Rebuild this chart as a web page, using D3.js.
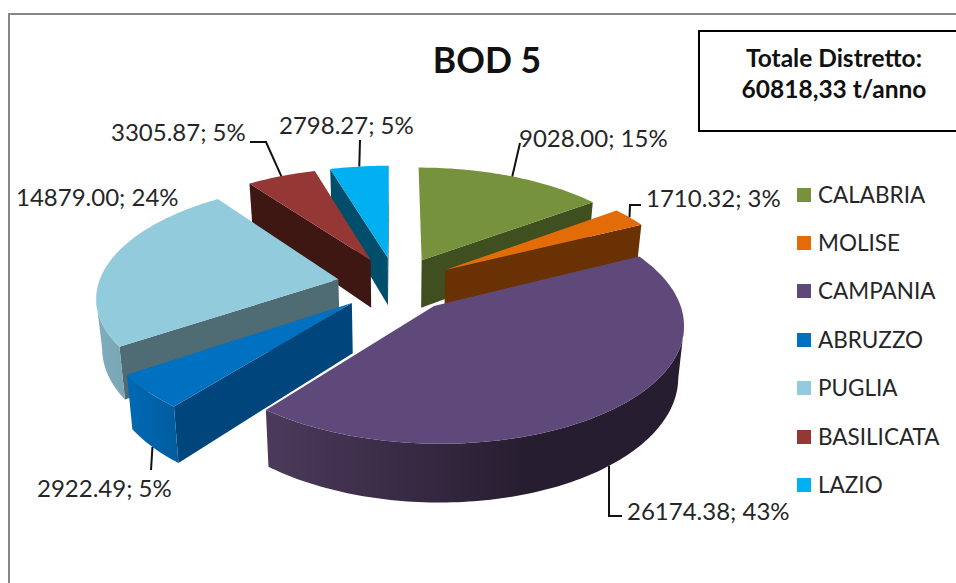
<!DOCTYPE html>
<html><head><meta charset="utf-8">
<script src="https://cdn.jsdelivr.net/npm/d3@7/dist/d3.min.js"></script>
<style>html,body{margin:0;padding:0;background:#fff;overflow:hidden}text{font-family:Lato,"Open Sans",sans-serif;fill:#262626}</style>
</head><body><svg id="c" width="956" height="583"></svg>
<script>
const categories=["CALABRIA","MOLISE","CAMPANIA","ABRUZZO","PUGLIA","BASILICATA","LAZIO"];
const values=[9028.00,1710.32,26174.38,2922.49,14879.00,3305.87,2798.27];
const percents=[15,3,43,5,24,5,5];
const topColors=["#76923c","#e36c09","#5f497a","#0070c0","#92cbdc","#953735","#00b0f0"];
const wallColors=["#3f4f20","#6a3104","#2c2139","#00467c","#4f6b74","#3e1612","#004e6c"];
const rimLeft=["#4a5c26","#80400a","#4c3a5c","#0069b5","#80adbb","#6e2826","#0080b0"];
const rimRight=["#3f4f20","#6a3104","#271d30","#005c9e","#7aa6b5","#3e1612","#004e6c"];
const title="BOD 5";
const totalLines=["Totale Distretto:","60818,33 t/anno"];
// label layout: text x, baseline y, leader elbows relative to the slice anchor
const labelPos=[[519,147],[646,207],[627,520],[37,497],[16,206],[111,141],[279,134]];
const leaders=[[[520,143]],[[630,205],[641,205]],[[609,516],[622,516]],[[151,470]],null,[[266,142],[250,142]],[[360,140]]];
const paintOrder=[6,5,0,1,4,3,2];
const legendY=[195,243,291,340,388,437,485];

const cx=396,cy=284,fx=240,fy=111.8,persp=0.14,wall=49,explode=0.245,baseShrink=0.98;
function proj(X,Y,bottom){
  const s=1/(1-persp*Y);
  let x=cx+fx*X*s, y=cy+fy*Y*s;
  if(bottom){x=cx+(x-cx)*baseShrink;y+=wall*s;}
  return [x,y];
}
const svg=d3.select("#c");
const defs=svg.append("defs");
svg.append("path").attr("d","M956,14H9V583").attr("fill","none").attr("stroke","#868686").attr("stroke-width",2);

const arcs=d3.pie().sort(null).value(d=>d)(values);
const line=d3.line();
const g=svg.append("g");
function ground(d,a,r){ // point on slice d at angle a, radius r, with its explosion
  const m=(d.startAngle+d.endAngle)/2;
  return [explode*Math.sin(m)+r*Math.sin(a), -explode*Math.cos(m)-r*Math.cos(a)];
}
paintOrder.forEach(i=>{
  const d=arcs[i];
  const apex=ground(d,0,0);
  const n=Math.max(8,Math.ceil((d.endAngle-d.startAngle)/0.02));
  const angs=d3.range(n+1).map(k=>d.startAngle+(d.endAngle-d.startAngle)*k/n);
  const P=a=>ground(d,a,1);
  // radial cut faces
  const face=a=>{const e=P(a);return [proj(...apex,false),proj(...e,false),proj(...e,true),proj(...apex,true)];};
  if(Math.sin(d.startAngle)<0) g.append("path").attr("d",line(face(d.startAngle))+"Z").attr("fill",wallColors[i]);
  if(Math.sin(d.endAngle)>0) g.append("path").attr("d",line(face(d.endAngle))+"Z").attr("fill",wallColors[i]);
  // outer rim, only where it faces the viewer
  const front=angs.filter((a,k)=>{
    const next=angs[Math.min(k+1,n)],prev=angs[Math.max(k-1,0)];
    return proj(...P(next),false)[0]<proj(...P(prev),false)[0];
  });
  if(front.length>1){
    const id="rim"+i;
    const gr=defs.append("linearGradient").attr("id",id);
    gr.append("stop").attr("offset",0).attr("stop-color",rimLeft[i]);
    gr.append("stop").attr("offset",i===2?0.62:1).attr("stop-color",rimRight[i]);
    const t=front.map(a=>proj(...P(a),false)),b=front.map(a=>proj(...P(a),true)).reverse();
    g.append("path").attr("d",line(t.concat(b))+"Z").attr("fill",`url(#${id})`);
  }
  // top face
  g.append("path").attr("d",line([proj(...apex,false)].concat(angs.map(a=>proj(...P(a),false))))+"Z").attr("fill",topColors[i]);
});

// leader lines and data labels
arcs.forEach((d,i)=>{
  const m=(d.startAngle+d.endAngle)/2;
  const onFront=Math.cos(m)<0;
  const start=proj(...ground(d,m,1),onFront);
  if(leaders[i]) svg.append("path").attr("d",line([start].concat(leaders[i]))).attr("fill","none").attr("stroke","#111").attr("stroke-width",2);
  svg.append("text").attr("x",labelPos[i][0]).attr("y",labelPos[i][1]).attr("font-size",24)
    .text(values[i].toFixed(2)+"; "+percents[i]+"%");
});

// title
svg.append("text").attr("x",487).attr("y",73).attr("text-anchor","middle").attr("font-size",35.5).attr("font-weight",700).style("fill","#111").text(title);
// total box
svg.append("path").attr("d","M957,31H699V131H957").attr("fill","#fff").attr("stroke","#000").attr("stroke-width",2);
totalLines.forEach((t,k)=>svg.append("text").attr("x",834).attr("y",67+k*31).attr("text-anchor","middle").attr("font-size",24.5).attr("font-weight",700).style("fill","#111").text(t));
// legend
categories.forEach((c,i)=>{
  svg.append("rect").attr("x",797).attr("y",legendY[i]-7).attr("width",14).attr("height",14).attr("fill",topColors[i]);
  svg.append("text").attr("x",818).attr("y",legendY[i]+8).attr("font-size",22.5).text(c);
});
</script></body></html>
